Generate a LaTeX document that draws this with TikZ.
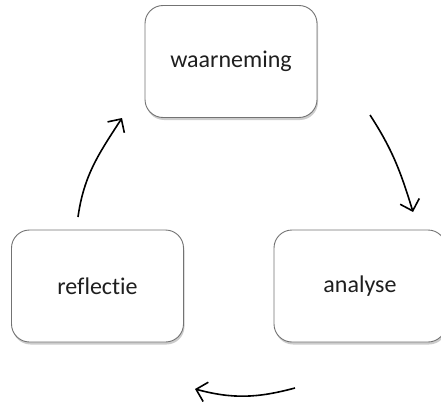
\documentclass[tikz,border=0pt]{standalone}
\usepackage{fontspec}
\setmainfont{Carlito}[Ligatures=NoCommon]
\usetikzlibrary{arrows.meta,shadows}

\begin{document}
\begin{tikzpicture}[x=1pt,y=1pt]
                    \tikzstyle{every node}+=[inner sep=0pt]
                    \tikzstyle{stage}=[draw=black!55, line width=0.9pt, fill=white, rounded corners=18pt, minimum width=172pt, minimum height=112pt, font=\fontsize{24}{28}\selectfont, text=black!88, drop shadow={shadow xshift=1pt, shadow yshift=-2.5pt, opacity=0.4}]
                    \tikzstyle{cycle}=[line width=1.6pt, -{Straight Barb[length=10pt,width=20pt]}]
                    \useasboundingbox (0,0) rectangle (441,405);
                    \node [stage] (waarneming) at (231,343.5) {waarneming};
                    \node [stage] (reflectie) at (97.5,119) {reflectie};
                    \node [stage] (analyse) at (360,119) {analyse};
                    % waarneming -> analyse
                    \coordinate (wa-from) at (370,290);
                    \coordinate (wa-to) at (413,193);
                    \draw [cycle] (wa-from) to[out=-57,in=107] (wa-to);
                    % analyse -> reflectie
                    \coordinate (ar-from) at (295,17);
                    \coordinate (ar-to) at (195,16);
                    \draw [cycle] (ar-from) to[out=195,in=-15] (ar-to);
                    % reflectie -> waarneming
                    \coordinate (rw-from) at (78,188);
                    \coordinate (rw-to) at (122,287);
                    \draw [cycle] (rw-from) to[out=82,in=237] (rw-to);
                \end{tikzpicture}
\end{document}
